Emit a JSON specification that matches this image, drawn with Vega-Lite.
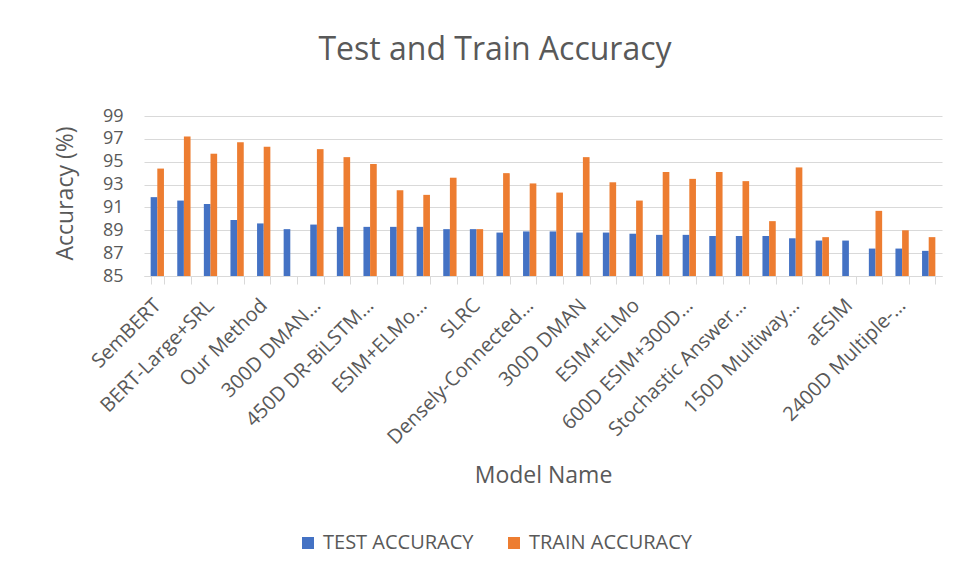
{
  "$schema": "https://vega.github.io/schema/vega-lite/v6.json",
  "width": 798,
  "height": 160,
  "autosize": "none",
  "padding": {"left": 144, "top": 116, "right": 22, "bottom": 306},
  "background": "white",
  "config": {"view": {"stroke": null}, "font": "Open Sans"},
  "title": {"text": "Test and Train Accuracy", "fontSize": 32, "font": "Open Sans", "fontWeight": "normal", "color": "#595959", "anchor": "middle", "dx": -48, "offset": 40},
  "data": {"values": [
    {"model": "SemBERT", "series": "TEST ACCURACY", "value": 91.9},
    {"model": "SemBERT", "series": "TRAIN ACCURACY", "value": 94.4},
    {"model": "MT-DNN", "series": "TEST ACCURACY", "value": 91.6},
    {"model": "MT-DNN", "series": "TRAIN ACCURACY", "value": 97.2},
    {"model": "BERT-Large+SRL", "series": "TEST ACCURACY", "value": 91.3},
    {"model": "BERT-Large+SRL", "series": "TRAIN ACCURACY", "value": 95.7},
    {"model": "Fine-Tuned LM-Pretrained Transformer", "series": "TEST ACCURACY", "value": 89.9},
    {"model": "Fine-Tuned LM-Pretrained Transformer", "series": "TRAIN ACCURACY", "value": 96.7},
    {"model": "Our Method", "series": "TEST ACCURACY", "value": 89.6},
    {"model": "Our Method", "series": "TRAIN ACCURACY", "value": 96.3},
    {"model": "CSRAN", "series": "TEST ACCURACY", "value": 89.1},
    {"model": "300D DMAN…", "series": "TEST ACCURACY", "value": 89.5},
    {"model": "300D DMAN…", "series": "TRAIN ACCURACY", "value": 96.1},
    {"model": "150D Multiway Attention Network Ensemble", "series": "TEST ACCURACY", "value": 89.3},
    {"model": "150D Multiway Attention Network Ensemble", "series": "TRAIN ACCURACY", "value": 95.4},
    {"model": "450D DR-BiLSTM…", "series": "TEST ACCURACY", "value": 89.3},
    {"model": "450D DR-BiLSTM…", "series": "TRAIN ACCURACY", "value": 94.8},
    {"model": "300D CAFE Ensemble", "series": "TEST ACCURACY", "value": 89.3},
    {"model": "300D CAFE Ensemble", "series": "TRAIN ACCURACY", "value": 92.5},
    {"model": "ESIM+ELMo…", "series": "TEST ACCURACY", "value": 89.3},
    {"model": "ESIM+ELMo…", "series": "TRAIN ACCURACY", "value": 92.1},
    {"model": "KIM Ensemble", "series": "TEST ACCURACY", "value": 89.1},
    {"model": "KIM Ensemble", "series": "TRAIN ACCURACY", "value": 93.6},
    {"model": "SLRC", "series": "TEST ACCURACY", "value": 89.1},
    {"model": "SLRC", "series": "TRAIN ACCURACY", "value": 89.1},
    {"model": "Gumbel TreeLSTM Ensemble", "series": "TEST ACCURACY", "value": 88.8},
    {"model": "Gumbel TreeLSTM Ensemble", "series": "TRAIN ACCURACY", "value": 94.0},
    {"model": "Densely-Connected…", "series": "TEST ACCURACY", "value": 88.9},
    {"model": "Densely-Connected…", "series": "TRAIN ACCURACY", "value": 93.1},
    {"model": "448D DIIN Ensemble", "series": "TEST ACCURACY", "value": 88.9},
    {"model": "448D DIIN Ensemble", "series": "TRAIN ACCURACY", "value": 92.3},
    {"model": "300D DMAN", "series": "TEST ACCURACY", "value": 88.8},
    {"model": "300D DMAN", "series": "TRAIN ACCURACY", "value": 95.4},
    {"model": "BiMPM Ensemble", "series": "TEST ACCURACY", "value": 88.8},
    {"model": "BiMPM Ensemble", "series": "TRAIN ACCURACY", "value": 93.2},
    {"model": "ESIM+ELMo", "series": "TEST ACCURACY", "value": 88.7},
    {"model": "ESIM+ELMo", "series": "TRAIN ACCURACY", "value": 91.6},
    {"model": "KIM", "series": "TEST ACCURACY", "value": 88.6},
    {"model": "KIM", "series": "TRAIN ACCURACY", "value": 94.1},
    {"model": "600D ESIM+300D…", "series": "TEST ACCURACY", "value": 88.6},
    {"model": "600D ESIM+300D…", "series": "TRAIN ACCURACY", "value": 93.5},
    {"model": "450D DR-BiLSTM", "series": "TEST ACCURACY", "value": 88.5},
    {"model": "450D DR-BiLSTM", "series": "TRAIN ACCURACY", "value": 94.1},
    {"model": "Stochastic Answer…", "series": "TEST ACCURACY", "value": 88.5},
    {"model": "Stochastic Answer…", "series": "TRAIN ACCURACY", "value": 93.3},
    {"model": "300D CAFE", "series": "TEST ACCURACY", "value": 88.5},
    {"model": "300D CAFE", "series": "TRAIN ACCURACY", "value": 89.8},
    {"model": "150D Multiway…", "series": "TEST ACCURACY", "value": 88.3},
    {"model": "150D Multiway…", "series": "TRAIN ACCURACY", "value": 94.5},
    {"model": "BCN+Char+CoVe", "series": "TEST ACCURACY", "value": 88.1},
    {"model": "BCN+Char+CoVe", "series": "TRAIN ACCURACY", "value": 88.4},
    {"model": "aESIM", "series": "TEST ACCURACY", "value": 88.1},
    {"model": "BiMPM", "series": "TEST ACCURACY", "value": 87.4},
    {"model": "BiMPM", "series": "TRAIN ACCURACY", "value": 90.7},
    {"model": "2400D Multiple-…", "series": "TEST ACCURACY", "value": 87.4},
    {"model": "2400D Multiple-…", "series": "TRAIN ACCURACY", "value": 89.0},
    {"model": "600D Residual Stacked Encoders", "series": "TEST ACCURACY", "value": 87.2},
    {"model": "600D Residual Stacked Encoders", "series": "TRAIN ACCURACY", "value": 88.4}
  ]},
  "mark": {"type": "bar"},
  "encoding": {
    "x": {
      "field": "model", "type": "nominal", "sort": null,
      "scale": {"paddingInner": 0.5, "paddingOuter": 0.25},
      "axis": {
        "title": "Model Name", "titleFontSize": 23, "titleFont": "Open Sans", "titleFontWeight": "normal", "titleColor": "#595959",
        "titleY": 199, "titleBaseline": "middle",
        "labelAngle": -45, "labelAlign": "right", "labelBaseline": "middle",
        "labelFontSize": 20, "labelFont": "Open Sans", "labelColor": "#595959",
        "labelPadding": 18, "labelLimit": 400, "labelOverlap": false,
        "labelExpr": "indexof(['SemBERT','BERT-Large+SRL','Our Method','300D DMAN…','450D DR-BiLSTM…','ESIM+ELMo…','SLRC','Densely-Connected…','300D DMAN','ESIM+ELMo','600D ESIM+300D…','Stochastic Answer…','150D Multiway…','aESIM','2400D Multiple-…'], datum.value) >= 0 ? datum.value : ''",
        "tickBand": "extent", "tickSize": 8, "tickColor": "#D9D9D9", "domainColor": "#D9D9D9", "grid": false
      }
    },
    "xOffset": {"field": "series", "type": "nominal", "sort": ["TEST ACCURACY", "TRAIN ACCURACY"], "scale": {"paddingInner": 0, "paddingOuter": 0}},
    "y": {
      "field": "value", "type": "quantitative",
      "scale": {"domain": [85, 99], "zero": false, "nice": false},
      "axis": {
        "title": "Accuracy (%)", "titleFontSize": 23, "titleFont": "Open Sans", "titleFontWeight": "normal", "titleColor": "#595959",
        "titleX": -79, "titleY": 77, "titleBaseline": "middle", "titleAlign": "center", "titleAngle": -90,
        "values": [85, 87, 89, 91, 93, 95, 97, 99],
        "tickSize": 0, "domain": false, "gridColor": "#D9D9D9",
        "labelPadding": 21, "labelFontSize": 18, "labelFont": "Open Sans", "labelColor": "#595959"
      }
    },
    "y2": {"datum": 85},
    "color": {
      "field": "series", "type": "nominal",
      "scale": {"domain": ["TEST ACCURACY", "TRAIN ACCURACY"], "range": ["#4472C4", "#ED7D31"]},
      "legend": {
        "orient": "none", "legendX": 154, "legendY": 417, "direction": "horizontal", "title": null,
        "symbolType": "square", "symbolSize": 144, "symbolStrokeWidth": 0,
        "labelFontSize": 20, "labelFont": "Open Sans", "labelColor": "#595959", "labelLimit": 400,
        "columnPadding": 30, "labelOffset": 5, "padding": 0
      }
    }
  }
}
